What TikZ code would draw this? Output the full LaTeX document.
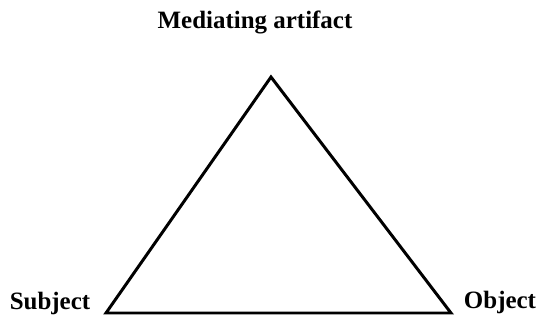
\documentclass[tikz,border=0pt]{standalone}
\usepackage{fontspec}
\setmainfont{Liberation Serif}
\usepackage{tikz}
\usetikzlibrary{positioning}
\tikzset{
  corner/.style={inner sep=0pt, font=\bfseries\fontsize{14.2}{17}\selectfont, anchor=base},
  edge/.style={line width=1.7pt, line join=miter}
}

\begin{document}
\begin{tikzpicture}[x=0.02cm, y=-0.02cm]
  \useasboundingbox (0,0) rectangle (542,322);
  \coordinate (top) at (271,77);
  \coordinate (left) at (106,313);
  \coordinate (right) at (451,313);
  \node[corner] (artifact) at (255,28) {Mediating artifact};
  \node[corner] (subject) at (50,309) {Subject};
  \node[corner] (object) at (500,308) {Object};
  \draw[edge] (left) -- (top) -- (right) -- cycle;
\end{tikzpicture}
\end{document}
